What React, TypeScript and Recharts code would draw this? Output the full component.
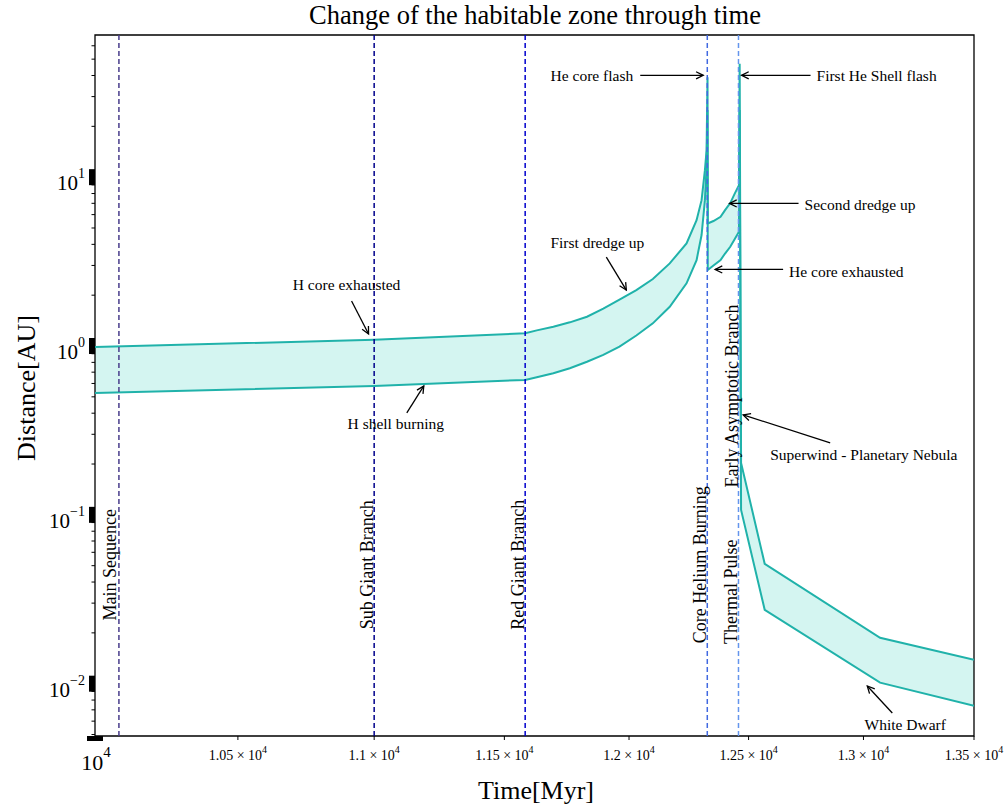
import React from "react";
import {
  Area,
  ComposedChart,
  Line,
  ReferenceArea,
  ReferenceDot,
  ReferenceLine,
  XAxis,
  YAxis,
} from "recharts";

// habitable zone boundaries
const timeMyr = [
  10000, 11000, 11582, 11628, 11694, 11760, 11829, 11895, 11961, 12030, 12098, 12168, 12238, 12280, 12301,
  12315, 12322, 12326, 12327, 12351, 12381, 12400, 12422, 12440, 12459, 12462, 12468, 12569, 13074, 13500,
];
const outerAU = [
  0.985, 1.09, 1.19, 1.238, 1.301, 1.381, 1.491, 1.667, 1.884, 2.145, 2.491, 3.085, 4.053, 5.566, 7.31,
  11.0, 14.44, 39, 5.32, 5.5, 5.82, 6.38, 7.02, 7.93, 8.97, 47, 0.203, 0.0513, 0.0187, 0.01387,
];
const innerAU = [
  0.527, 0.58, 0.63, 0.653, 0.689, 0.738, 0.807, 0.885, 0.991, 1.154, 1.362, 1.708, 2.35, 3.228, 4.54,
  7.31, 11.5, 25, 2.82, 3.0, 3.23, 3.53, 3.87, 4.28, 4.75, 25, 0.107, 0.0274, 0.01014, 0.0074,
];

const xTicks = [10000, 10500, 11000, 11500, 12000, 12500, 13000, 13500];
const yMajorTicks = [0.01, 0.1, 1, 10];
const yMinorTicks = [
  0.005, 0.006, 0.007, 0.008, 0.009, 0.02, 0.03, 0.04, 0.05, 0.06, 0.07, 0.08, 0.09,
  0.2, 0.3, 0.4, 0.5, 0.6, 0.7, 0.8, 0.9, 2, 3, 4, 5, 6, 7, 8, 9, 20, 30, 40, 50, 60,
];

// evolutionary phases
const phaseNames = ["Main Sequence", "Sub Giant Branch", "Red Giant Branch", "Core Helium Burning", "Thermal Pulse"];
const phaseStart = [10082, 11000, 11582, 12325, 12457];
const phaseLabelAU = [0.0506, 0.0506, 0.0506, 0.0506, 0.035];
const extraPhaseName = "Early Asymptotic Branch";
const extraPhaseAU = 0.506;

// annotated events: arrow tip in data units
const eventNames = [
  "He core flash",
  "First He Shell flash",
  "Second dredge up",
  "He core exhausted",
  "First dredge up",
  "H core exhausted",
  "H shell burning",
  "Superwind - Planetary Nebula",
  "White Dwarf",
];
const eventTime = [12308, 12470, 12419, 12358, 11989, 10979, 11188, 12477, 13017];
const eventAU = [40.1, 40.1, 6.99, 2.84, 2.145, 1.178, 0.58, 0.391, 0.00969];

const Y_MIN = 0.0049;
const Y_MAX = 69.5;
const LINE = "#20b2aa";
const FILL = "#d4f5f1";
const FONT = "'Liberation Serif', 'Times New Roman', serif";
const phaseColors = ["#483d8b", "#00008b", "#0000cd", "#4169e1", "#6495ed"];

// pixel offsets of arrow tail and text from the arrow tip
const eventLayout = [
  { ax: -63, ay: 0, tx: -70, ty: 6, anchor: "end" },
  { ax: 69, ay: 0, tx: 75, ty: 6, anchor: "start" },
  { ax: 69, ay: 0, tx: 75, ty: 7, anchor: "start" },
  { ax: 68, ay: 0, tx: 74, ty: 8, anchor: "start" },
  { ax: -20, ay: -33, tx: -29, ty: -42, anchor: "middle" },
  { ax: -17, ay: -33, tx: -22, ty: -44, anchor: "middle" },
  { ax: -17, ay: 27, tx: -28, ty: 43, anchor: "middle" },
  { ax: 87, ay: 28, tx: 27, ty: 45, anchor: "start" },
  { ax: 25, ay: 27, tx: 38, ty: 44, anchor: "middle" },
];

const data = timeMyr.map((t, i) => ({
  t,
  outer: outerAU[i],
  inner: innerAU[i],
  band: [innerAU[i], outerAU[i]],
}));

function XTick(props: any) {
  const { x, y, payload } = props;
  const v = payload.value;
  if (v === 10000) {
    return (
      <g>
        <rect x={x - 8} y={y} width={16} height={5} fill="#000" />
        <text x={x + 1} y={y + 34} textAnchor="middle" fontFamily={FONT} fill="#000">
          <tspan fontSize={22}>10</tspan>
          <tspan fontSize={15} dy={-13}>4</tspan>
        </text>
      </g>
    );
  }
  const mant = String(v / 10000);
  return (
    <g>
      <line x1={x} x2={x} y1={y} y2={y + 4} stroke="#000" strokeWidth={1} />
      <text x={x} y={y + 24} textAnchor="middle" fontFamily={FONT} fill="#000">
        <tspan fontSize={14}>{`${mant} × 10`}</tspan>
        <tspan fontSize={10} dy={-7}>4</tspan>
      </text>
    </g>
  );
}

function YTick(props: any) {
  const { x, y, payload } = props;
  const v = payload.value;
  const exp = Math.round(Math.log10(v));
  if (yMajorTicks.includes(v)) {
    return (
      <g>
        <rect x={x - 6} y={y - 8} width={6} height={16} fill="#000" />
        <text x={x - 10} y={y + 13} textAnchor="end" fontFamily={FONT} fill="#000">
          <tspan fontSize={21}>10</tspan>
          <tspan fontSize={14} dy={-12}>{exp < 0 ? `\u2212${-exp}` : `${exp}`}</tspan>
        </text>
      </g>
    );
  }
  return <line x1={x - 3.5} x2={x} y1={y} y2={y} stroke="#000" strokeWidth={1} />;
}

function arrowHead(x1: number, y1: number, x2: number, y2: number) {
  const a = Math.atan2(y2 - y1, x2 - x1);
  const L = 8;
  const s = 0.46;
  const p1 = [x2 - L * Math.cos(a - s), y2 - L * Math.sin(a - s)];
  const p2 = [x2 - L * Math.cos(a + s), y2 - L * Math.sin(a + s)];
  return `M${p1[0]},${p1[1]} L${x2},${y2} L${p2[0]},${p2[1]}`;
}

function eventShape(i: number) {
  return (p: any) => {
    const { cx, cy } = p;
    const l = eventLayout[i];
    const sx = cx + l.ax;
    const sy = cy + l.ay;
    return (
      <g>
        <line x1={sx} y1={sy} x2={cx} y2={cy} stroke="#000" strokeWidth={1.3} />
        <path d={arrowHead(sx, sy, cx, cy)} fill="none" stroke="#000" strokeWidth={1.3} />
        <text
          x={cx + l.tx}
          y={cy + l.ty}
          textAnchor={l.anchor}
          fontFamily={FONT}
          fontSize={15.5}
          fill="#000"
        >
          {eventNames[i]}
        </text>
      </g>
    );
  };
}

function phaseShape(name: string, dx: number) {
  return (p: any) => {
    const { cx, cy } = p;
    return (
      <text
        x={cx + dx}
        y={cy}
        transform={`rotate(-90 ${cx + dx} ${cy})`}
        textAnchor="middle"
        dominantBaseline="central"
        fontFamily={FONT}
        fontSize={18}
        fill="#000"
      >
        {name}
      </text>
    );
  };
}

export default function App() {
  return (
    <div style={{ position: "absolute", left: 0, top: 0, width: 1008, height: 811, background: "#fff", fontFamily: FONT }}>
      <div style={{ position: "absolute", left: 0, width: 1008, top: 0, textAlign: "center", paddingLeft: 62, boxSizing: "border-box", fontSize: 26.5, color: "#000" }}>
        Change of the habitable zone through time
      </div>
      <div style={{ position: "absolute", left: 476, width: 120, top: 776, textAlign: "center", fontSize: 26, color: "#000" }}>
        Time[Myr]
      </div>
      <div
        style={{
          position: "absolute",
          left: 27,
          top: 388,
          transform: "translate(-50%, -50%) rotate(-90deg)",
          fontSize: 26,
          whiteSpace: "nowrap",
          color: "#000",
        }}
      >
        Distance[AU]
      </div>
      <div style={{ position: "absolute", left: 0, top: 0 }}>
        <ComposedChart width={1008} height={811} data={data} margin={{ top: 35, right: 34, bottom: 0, left: 0 }}>
          <XAxis
            dataKey="t"
            type="number"
            scale="log"
            domain={[10000, 13500]}
            allowDataOverflow
            ticks={xTicks}
            interval={0}
            tick={<XTick />}
            tickLine={false}
            axisLine={false}
            tickSize={0}
            tickMargin={0}
            height={75}
          />
          <YAxis
            type="number"
            scale="log"
            domain={[Y_MIN, Y_MAX]}
            allowDataOverflow
            ticks={[...yMinorTicks, ...yMajorTicks].sort((a, b) => a - b)}
            interval={0}
            tick={<YTick />}
            tickLine={false}
            axisLine={false}
            tickSize={0}
            tickMargin={0}
            width={95}
          />
          <Area
            dataKey="band"
            type="linear"
            fill={FILL}
            fillOpacity={1}
            stroke="none"
            isAnimationActive={false}
          />
          <Line dataKey="outer" type="linear" stroke={LINE} strokeWidth={2} dot={false} isAnimationActive={false} />
          <Line dataKey="inner" type="linear" stroke={LINE} strokeWidth={2} dot={false} isAnimationActive={false} />
          {phaseStart.map((t, i) => (
            <ReferenceLine
              key={phaseNames[i]}
              x={t}
              stroke={phaseColors[i]}
              strokeWidth={1.5}
              strokeDasharray="5 3"
            />
          ))}
          {phaseStart.map((t, i) => (
            <ReferenceDot
              key={`lbl-${phaseNames[i]}`}
              x={t}
              y={phaseLabelAU[i]}
              r={1}
              shape={phaseShape(phaseNames[i], i === 0 ? -9 : -7)}
            />
          ))}
          <ReferenceDot x={phaseStart[4]} y={extraPhaseAU} r={1} shape={phaseShape(extraPhaseName, -6)} />
          {eventNames.map((name, i) => (
            <ReferenceDot key={name} x={eventTime[i]} y={eventAU[i]} r={1} shape={eventShape(i)} />
          ))}
          <ReferenceArea
            x1={10000}
            x2={13500}
            y1={Y_MIN}
            y2={Y_MAX}
            fill="none"
            stroke="#000"
            strokeWidth={1.3}
            ifOverflow="visible"
          />
        </ComposedChart>
      </div>
    </div>
  );
}
